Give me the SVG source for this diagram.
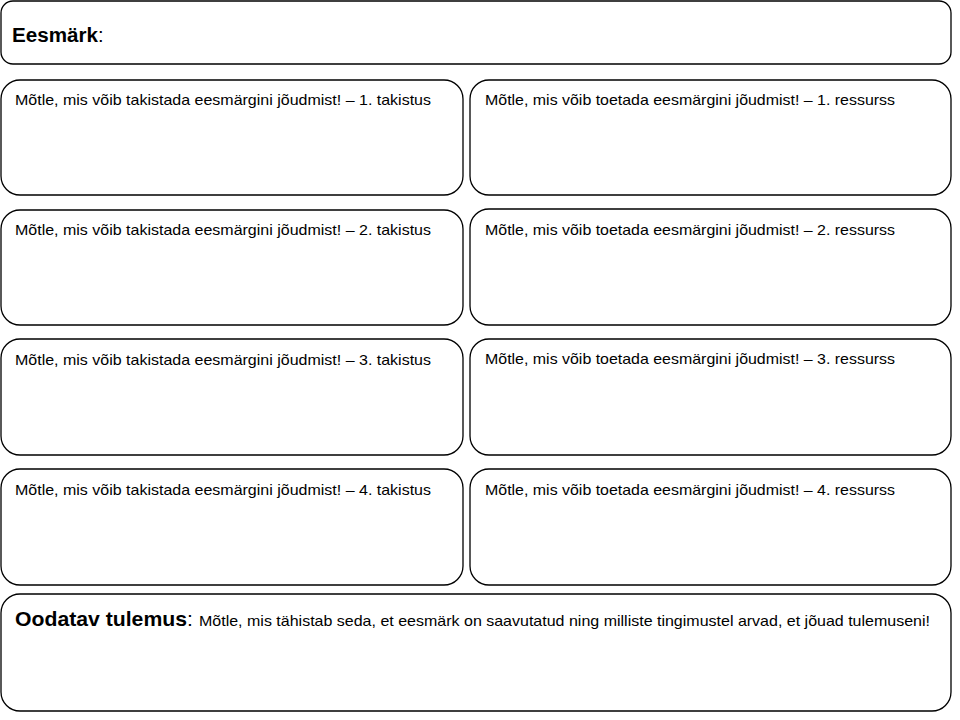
<svg xmlns="http://www.w3.org/2000/svg" width="960" height="720" viewBox="0 0 960 720">
<style>
.box{fill:#fff;stroke:#000;stroke-width:1.3}
.t{font-family:"Liberation Sans",Arial,sans-serif;font-size:15px;fill:#000}
.b{font-family:"Liberation Sans",Arial,sans-serif;font-weight:bold;fill:#000}
</style>
<rect width="960" height="720" fill="#fff"/>
<g id="eesmark">
<rect class="box" x="1" y="1" width="950" height="63" rx="12"/>
<text class="b" x="12" y="42" style="font-size:20px" textLength="86" lengthAdjust="spacingAndGlyphs">Eesmärk</text>
<text class="t" x="98" y="42" style="font-size:20px">:</text>
</g>
<g id="takistus1">
<rect class="box" x="1" y="80" width="462" height="115" rx="19"/>
<text class="t" x="15" y="105" textLength="416" lengthAdjust="spacingAndGlyphs">Mõtle, mis võib takistada eesmärgini jõudmist! – 1. takistus</text>
</g>
<g id="ressurss1">
<rect class="box" x="470" y="80" width="481" height="115" rx="19"/>
<text class="t" x="485" y="105" textLength="410" lengthAdjust="spacingAndGlyphs">Mõtle, mis võib toetada eesmärgini jõudmist! – 1. ressurss</text>
</g>
<g id="takistus2">
<rect class="box" x="1" y="210" width="462" height="115" rx="19"/>
<text class="t" x="15" y="235" textLength="416" lengthAdjust="spacingAndGlyphs">Mõtle, mis võib takistada eesmärgini jõudmist! – 2. takistus</text>
</g>
<g id="ressurss2">
<rect class="box" x="470" y="209" width="481" height="116" rx="19"/>
<text class="t" x="485" y="235" textLength="410" lengthAdjust="spacingAndGlyphs">Mõtle, mis võib toetada eesmärgini jõudmist! – 2. ressurss</text>
</g>
<g id="takistus3">
<rect class="box" x="1" y="339" width="462" height="116" rx="19"/>
<text class="t" x="15" y="365" textLength="416" lengthAdjust="spacingAndGlyphs">Mõtle, mis võib takistada eesmärgini jõudmist! – 3. takistus</text>
</g>
<g id="ressurss3">
<rect class="box" x="470" y="339" width="481" height="116" rx="19"/>
<text class="t" x="485" y="364" textLength="410" lengthAdjust="spacingAndGlyphs">Mõtle, mis võib toetada eesmärgini jõudmist! – 3. ressurss</text>
</g>
<g id="takistus4">
<rect class="box" x="1" y="469" width="462" height="116" rx="19"/>
<text class="t" x="15" y="495" textLength="416" lengthAdjust="spacingAndGlyphs">Mõtle, mis võib takistada eesmärgini jõudmist! – 4. takistus</text>
</g>
<g id="ressurss4">
<rect class="box" x="470" y="469" width="481" height="116" rx="19"/>
<text class="t" x="485" y="495" textLength="410" lengthAdjust="spacingAndGlyphs">Mõtle, mis võib toetada eesmärgini jõudmist! – 4. ressurss</text>
</g>
<g id="tulemus">
<rect class="box" x="1" y="594" width="950" height="117" rx="19"/>
<text class="b" x="15" y="626" style="font-size:21px" textLength="172" lengthAdjust="spacingAndGlyphs">Oodatav tulemus</text>
<text class="t" x="187" y="626" style="font-size:21px">:</text>
<text class="t" x="199" y="626" textLength="731" lengthAdjust="spacingAndGlyphs">Mõtle, mis tähistab seda, et eesmärk on saavutatud ning milliste tingimustel arvad, et jõuad tulemuseni!</text>
</g>
<g id="connectors"></g>
</svg>
